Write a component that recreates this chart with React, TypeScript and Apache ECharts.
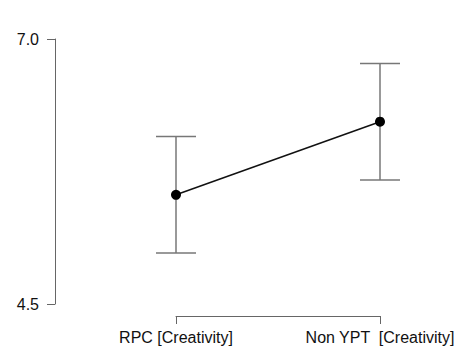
import React, { useEffect, useRef } from "react";
import * as echarts from "echarts";

const categories = ["RPC [Creativity]", "Non YPT  [Creativity]"];
const means = [5.53, 6.22];
const lowers = [4.98, 5.67];
const uppers = [6.08, 6.77];
const yTicks = [4.5, 7.0];

const FONT = "'Liberation Sans', Arial, sans-serif";

export default function App() {
  const ref = useRef<HTMLDivElement>(null);
  useEffect(() => {
    document.body.style.margin = "0";
    if (!ref.current) return;
    const chart = echarts.init(ref.current, null, { renderer: "svg" });
    const errData = categories.map((_, i) => [i, lowers[i], uppers[i]]);
    chart.setOption({
      animation: false,
      backgroundColor: "#ffffff",
      grid: { left: 176, right: 82, top: 39, bottom: 47, containLabel: false },
      xAxis: {
        type: "category",
        data: categories,
        boundaryGap: false,
        offset: 12,
        axisLine: { show: true, lineStyle: { color: "#666", width: 1 } },
        axisTick: { show: true, inside: false, length: 8, lineStyle: { color: "#666", width: 1 } },
        axisLabel: {
          interval: 0,
          margin: 13,
          color: "#111",
          fontSize: 16,
          fontFamily: FONT,
        },
        splitLine: { show: false },
      },
      yAxis: {
        type: "value",
        min: 4.5,
        max: 7.0,
        offset: 121,
        axisLine: { show: true, lineStyle: { color: "#666", width: 1 } },
        axisTick: {
          show: true,
          length: 8,
          customValues: yTicks,
          lineStyle: { color: "#666", width: 1 },
        },
        axisLabel: {
          customValues: yTicks,
          margin: 16,
          color: "#111",
          fontSize: 16,
          fontFamily: FONT,
          formatter: (v: number) => v.toFixed(1),
        },
        splitLine: { show: false },
      },
      series: [
        {
          type: "custom",
          clip: false,
          data: errData,
          encode: { x: 0, y: [1, 2] },
          z: 1,
          renderItem: (params: any, api: any) => {
            const i = api.value(0);
            const lo = api.coord([i, api.value(1)]);
            const hi = api.coord([i, api.value(2)]);
            const hw = 20;
            const style = { stroke: "#777", lineWidth: 1.5 };
            return {
              type: "group",
              children: [
                { type: "line", shape: { x1: hi[0], y1: hi[1], x2: lo[0], y2: lo[1] }, style },
                { type: "line", shape: { x1: hi[0] - hw, y1: hi[1], x2: hi[0] + hw, y2: hi[1] }, style },
                { type: "line", shape: { x1: lo[0] - hw, y1: lo[1], x2: lo[0] + hw, y2: lo[1] }, style },
              ],
            };
          },
        },
        {
          type: "line",
          data: means,
          clip: false,
          z: 3,
          symbol: "circle",
          symbolSize: 10,
          itemStyle: { color: "#000" },
          lineStyle: { color: "#111", width: 1.5 },
        },
      ],
    });
    return () => chart.dispose();
  }, []);
  return <div ref={ref} style={{ width: 462, height: 351 }} />;
}
